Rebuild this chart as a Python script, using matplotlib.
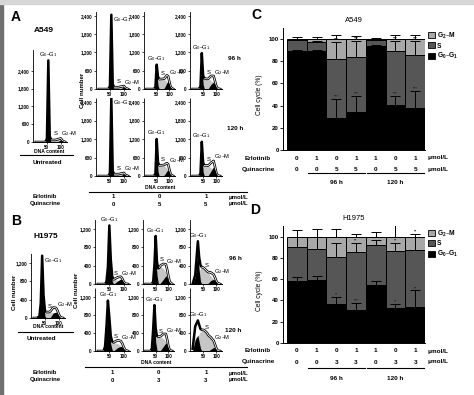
import numpy as np
import matplotlib
matplotlib.use("Agg")
import matplotlib.pyplot as plt
import matplotlib.transforms as mtrans
from matplotlib.lines import Line2D
from matplotlib.patches import Patch, Rectangle
from matplotlib.ticker import FuncFormatter

plt.rcParams["font.family"] = ["Liberation Sans", "DejaVu Sans"]
plt.rcParams["font.weight"] = "bold"
plt.rcParams["mathtext.default"] = "regular"
plt.rcParams["axes.linewidth"] = 0.7

W, H = 474, 395

# ---------------- flow histograms (DNA content channel -> cell number) ----------------
DNA = [10, 20, 30, 35, 40, 45, 50, 55, 60, 65, 70, 80, 90, 95, 100, 105, 115]

# order: untreated, 96 h (E1/Q0, E0/Q, E1/Q), 120 h (E1/Q0, E0/Q, E1/Q)
A_G1 = [
    [0, 0, 0, 0, 0, 0, 120, 2700, 120, 0, 0, 0, 0, 0, 0, 0, 0],
    [0, 0, 0, 0, 0, 0, 100, 2400, 100, 0, 0, 0, 0, 0, 0, 0, 0],
    [0, 0, 0, 0, 0, 40, 650, 120, 0, 0, 0, 0, 0, 0, 0, 0, 0],
    [0, 0, 0, 0, 60, 1000, 150, 0, 0, 0, 0, 0, 0, 0, 0, 0, 0],
    [0, 0, 0, 0, 0, 0, 100, 2500, 100, 0, 0, 0, 0, 0, 0, 0, 0],
    [0, 0, 0, 0, 0, 50, 1050, 150, 0, 0, 0, 0, 0, 0, 0, 0, 0],
    [0, 0, 0, 0, 50, 950, 130, 0, 0, 0, 0, 0, 0, 0, 0, 0, 0],
]
A_S = [
    [0, 0, 0, 0, 0, 0, 0, 50, 70, 70, 70, 70, 70, 60, 40, 10, 0],
    [0, 0, 0, 0, 0, 0, 0, 40, 60, 60, 60, 60, 60, 50, 30, 10, 0],
    [0, 0, 0, 0, 0, 30, 150, 280, 320, 330, 330, 310, 250, 170, 80, 20, 0],
    [0, 0, 0, 0, 30, 180, 300, 330, 340, 330, 320, 280, 200, 120, 50, 10, 0],
    [0, 0, 0, 0, 0, 0, 0, 40, 60, 60, 60, 60, 60, 50, 30, 10, 0],
    [0, 0, 0, 0, 0, 30, 150, 300, 340, 350, 350, 330, 260, 180, 90, 20, 0],
    [0, 0, 0, 0, 30, 160, 300, 340, 350, 340, 320, 270, 190, 110, 40, 10, 0],
]
A_G2 = [
    [0, 0, 0, 0, 0, 0, 0, 0, 0, 0, 0, 0, 20, 50, 80, 40, 0],
    [0, 0, 0, 0, 0, 0, 0, 0, 0, 0, 0, 0, 20, 40, 70, 30, 0],
    [0, 0, 0, 0, 0, 0, 0, 0, 0, 0, 0, 30, 200, 250, 150, 40, 0],
    [0, 0, 0, 0, 0, 0, 0, 0, 0, 0, 20, 150, 230, 150, 60, 10, 0],
    [0, 0, 0, 0, 0, 0, 0, 0, 0, 0, 0, 0, 20, 40, 70, 30, 0],
    [0, 0, 0, 0, 0, 0, 0, 0, 0, 0, 0, 30, 160, 200, 120, 30, 0],
    [0, 0, 0, 0, 0, 0, 0, 0, 0, 0, 20, 160, 300, 200, 80, 10, 0],
]
B_G1 = [
    [0, 0, 30, 300, 1300, 400, 40, 0, 0, 0, 0, 0, 0, 0, 0, 0, 0],
    [0, 0, 0, 0, 50, 350, 1220, 450, 60, 0, 0, 0, 0, 0, 0, 0, 0],
    [0, 0, 0, 0, 50, 350, 850, 200, 20, 0, 0, 0, 0, 0, 0, 0, 0],
    [0, 150, 785, 300, 60, 0, 0, 0, 0, 0, 0, 0, 0, 0, 0, 0, 0],
    [0, 0, 0, 100, 500, 1020, 600, 150, 20, 0, 0, 0, 0, 0, 0, 0, 0],
    [0, 0, 0, 60, 400, 800, 200, 20, 0, 0, 0, 0, 0, 0, 0, 0, 0],
    [0, 250, 350, 200, 60, 0, 0, 0, 0, 0, 0, 0, 0, 0, 0, 0, 0],
]
B_S = [
    [0, 0, 0, 20, 60, 100, 120, 130, 130, 130, 130, 120, 90, 60, 30, 10, 0],
    [0, 0, 0, 0, 0, 20, 60, 90, 100, 100, 95, 80, 50, 30, 10, 0, 0],
    [0, 0, 0, 0, 0, 60, 200, 280, 320, 360, 380, 340, 250, 170, 90, 30, 0],
    [0, 50, 150, 280, 350, 370, 360, 340, 310, 280, 240, 170, 110, 70, 30, 10, 0],
    [0, 0, 0, 0, 40, 100, 150, 180, 190, 190, 180, 160, 120, 80, 40, 10, 0],
    [0, 0, 0, 0, 80, 220, 300, 310, 320, 320, 310, 280, 200, 120, 50, 10, 0],
    [50, 300, 330, 380, 430, 470, 470, 460, 430, 400, 350, 260, 150, 90, 40, 10, 0],
]
B_G2 = [
    [0, 0, 0, 0, 0, 0, 0, 0, 0, 0, 20, 110, 130, 100, 50, 10, 0],
    [0, 0, 0, 0, 0, 0, 0, 0, 0, 0, 20, 70, 110, 90, 40, 10, 0],
    [0, 0, 0, 0, 0, 0, 0, 0, 0, 0, 30, 100, 180, 150, 80, 20, 0],
    [0, 0, 0, 0, 0, 0, 0, 0, 0, 0, 20, 80, 100, 80, 40, 10, 0],
    [0, 0, 0, 0, 0, 0, 0, 0, 0, 0, 30, 80, 100, 90, 50, 15, 0],
    [0, 0, 0, 0, 0, 0, 0, 0, 0, 0, 20, 100, 180, 140, 60, 10, 0],
    [0, 0, 0, 0, 0, 0, 0, 0, 0, 0, 0, 40, 80, 60, 30, 0, 0],
]
A_TICKS = [0, 600, 1200, 1800, 2400]
B_TICKS = [0, 400, 800, 1200]
GRID_ERL = ["1", "0", "1"]
A_QUIN = ["0", "5", "5"]
B_QUIN = ["0", "3", "3"]

# ---------------- cell-cycle distribution (%) ----------------
ERLOTINIB = ["0", "1", "0", "1", "1", "0", "1"]
C_QUINACRINE = ["0", "0", "5", "5", "0", "5", "5"]
D_QUINACRINE = ["0", "0", "3", "3", "0", "3", "3"]
PHASES = ["G$_2$–M", "S", "G$_0$–G$_1$"]

C_G1 = [89, 89, 28.5, 34.5, 94, 41, 37.5]
C_S = [10.5, 8.6, 53.2, 49.5, 5.5, 48, 48.5]
C_G2 = [0.5, 2.4, 18.3, 16, 0.5, 11, 14]
C_ERR_G1 = [1, 1, 17.5, 14.5, 1, 8, 16]
C_ERR_S = [0, 1, 16, 14, 0, 9, 12]
C_ERR_G2 = [1.5, 2, 4, 2.7, 1, 4, 4]
C_SIG_G1 = ["", "", "***", "***", "", "***", "***"]
C_SIG_S = ["", "", "***", "***", "", "***", "***"]
C_SIG_G2 = ["", "", "", "", "", "", ""]

D_G1 = [58.5, 59.4, 36.5, 31, 54.7, 33.3, 34.3]
D_S = [31.5, 29.3, 44, 54.5, 37.1, 53.5, 53.4]
D_G2 = [10, 11.3, 19.5, 14.5, 8.2, 13.2, 12.3]
D_ERR_G1 = [3.5, 3.6, 7.2, 6.4, 3.2, 3.2, 15.1]
D_ERR_S = [9.4, 11, 13.2, 8.5, 5, 7.2, 12]
D_ERR_G2 = [6, 7, 7.5, 2.8, 4, 10.7, 2.8]
D_SIG_G1 = ["", "", "**", "***", "", "**", "**"]
D_SIG_S = ["", "", "", "**", "", "**", ""]
D_SIG_G2 = ["", "", "", "", "", "", "**"]

fig = plt.figure(figsize=(W / 100, H / 100), dpi=100)
fig.patches.append(Rectangle((0, 0), 2.5 / W, 1, transform=fig.transFigure, color="#707070", zorder=10))
fig.patches.append(Rectangle((0, 1 - 3.5 / H), 1, 3.5 / H, transform=fig.transFigure, color="#d6d6d6", zorder=10))


def box(l, t, r, b):
    return fig.add_axes([l / W, 1 - b / H, (r - l) / W, (b - t) / H])


def ftext(x, y, s, **kw):
    kw.setdefault("ha", "center")
    kw.setdefault("va", "center")
    return fig.text(x / W, 1 - y / H, s, **kw)


def hline(x0, x1, y, lw=0.8):
    fig.add_artist(Line2D([x0 / W, x1 / W], [1 - y / H] * 2, color="black", lw=lw))


def histo(ax, g1, s, g2, ymax, yticks):
    x = np.array(DNA, float)
    g1, s, g2 = (np.array(v, float) for v in (g1, s, g2))
    env = g1 + s + g2
    ax.fill_between(x, 0, s, color="#c6c6c6", lw=0, zorder=1)
    ax.plot(x, env, color="black", lw=1.8, zorder=2)
    # white core of the envelope only away from the G0-G1 peak
    ax.plot(x, np.where(g1 > 0, np.nan, env), color="white", lw=0.6, zorder=3)
    ax.fill_between(x, 0, g1, color="black", lw=0, zorder=4)
    ax.fill_between(x, 0, g2, color="black", lw=0, zorder=4)
    ax.set_xlim(0, 122)
    ax.set_ylim(0, ymax)
    ax.set_xticks([50, 100])
    ax.set_yticks(yticks)
    ax.yaxis.set_major_formatter(FuncFormatter(lambda v, p: f"{int(v):,}"))
    ax.tick_params(labelsize=3.3, length=1.5, width=0.5, pad=0.8)
    for sp in ("top", "right"):
        ax.spines[sp].set_visible(False)
    ax.spines["left"].set_linestyle((0, (1, 1)))
    ax.spines["left"].set_linewidth(0.6)
    ax.patch.set_alpha(0)
    i1, i2 = int(np.argmax(g1)), int(np.argmax(g2))
    lab = dict(fontsize=4.2, fontweight="normal", clip_on=False, zorder=5)
    if env[i1] + 0.08 * ymax > ymax:
        ax.text(x[i1] + 6, env[i1], "G$_0$–G$_1$", ha="left", va="top", **lab)
    else:
        ax.text(x[i1], env[i1] + 0.02 * ymax, "G$_0$–G$_1$", ha="center", va="bottom", **lab)
    xs = 0.5 * (x[i1] + x[i2]) + 3
    ax.text(xs, np.interp(xs, x, env) + 0.04 * ymax, "S", ha="center", va="bottom", **lab)
    ax.text(x[i2] + 2, env[i2] + 0.05 * ymax, "G$_2$–M", ha="left", va="center", **lab)


def grid(g1s, s_s, g2s, ymax, yticks, rows, cols):
    for r, (t, b) in enumerate(rows):
        for c, (l, rr) in enumerate(cols):
            k = 1 + 3 * r + c
            histo(box(l, t, rr, b), g1s[k], s_s[k], g2s[k], ymax, yticks)


def cycle_bars(ax, g1, s, g2, errs, sigs, quin, title, ytab):
    x = np.arange(len(g1))
    g1, s, g2 = (np.array(v, float) for v in (g1, s, g2))
    kw = dict(width=1.0, edgecolor="black", linewidth=0.7)
    ax.bar(x, g1, color="black", **kw)
    ax.bar(x, s, bottom=g1, color="#565656", **kw)
    ax.bar(x, g2, bottom=g1 + s, color="#a8a8a8", **kw)
    for top, err, sig in zip((g1, g1 + s, g1 + s + g2), errs, sigs):
        err = np.array(err, float)
        m = err > 0
        ax.errorbar(x[m], top[m], yerr=[np.zeros(m.sum()), err[m]], fmt="none",
                    ecolor="black", elinewidth=0.7, capsize=3.3, capthick=0.7)
        for xi, tp, e, st in zip(x, top, err, sig):
            if st:
                ax.text(xi, tp + e + 0.3, st, ha="center", va="bottom", fontsize=3,
                        color="#222222")
    ax.set_xlim(-0.7, 6.5)
    ax.set_ylim(0, 110)
    ax.set_yticks(range(0, 101, 20))
    ax.set_xticks([])
    ax.tick_params(labelsize=4.3, length=2, width=0.6, pad=1)
    for sp in ("top", "right"):
        ax.spines[sp].set_visible(False)
    ax.set_ylabel("Cell cycle (%)", fontsize=4.8)
    ax.yaxis.set_label_coords(-0.14, 0.45)
    ax.set_title(title, fontsize=5.5, pad=4)
    ax.legend([Patch(facecolor=c, edgecolor="black", lw=0.6) for c in ("#a8a8a8", "#565656", "black")],
              PHASES, loc="upper left", bbox_to_anchor=(1.02, 0.98), fontsize=4.8,
              handlelength=1.0, handleheight=1.0, handletextpad=0.4, labelspacing=0.25,
              borderpad=0, borderaxespad=0, frameon=False)
    tr = mtrans.blended_transform_factory(ax.transData, fig.transFigure)
    y_e, y_q, y_l, y_t = (1 - v / H for v in ytab)
    ftext(258, ytab[0], "Erlotinib", fontsize=4.6)
    ftext(258, ytab[1], "Quinacrine", fontsize=4.6)
    for xi, e, q in zip(x, ERLOTINIB, quin):
        ax.text(xi, y_e, e, transform=tr, ha="center", va="center", fontsize=4.6)
        ax.text(xi, y_q, q, transform=tr, ha="center", va="center", fontsize=4.6)
    ax.text(6.62, y_e, "μmol/L", transform=tr, ha="left", va="center", fontsize=4.6)
    ax.text(6.62, y_q, "μmol/L", transform=tr, ha="left", va="center", fontsize=4.6)
    for lo, hi, lab in ((1, 3, "96 h"), (4, 6, "120 h")):
        ax.add_artist(Line2D([lo - 0.45, hi + 0.45], [y_l, y_l], transform=tr, color="black",
                             lw=0.8, clip_on=False))
        ax.text((lo + hi) / 2, y_t, lab, transform=tr, ha="center", va="center", fontsize=4.6)


# ---------------- panel A ----------------
ftext(16, 17, "A", fontsize=10)
ftext(44, 30, "A549", fontsize=6)
ax = box(33, 50, 67, 142)
histo(ax, A_G1[0], A_S[0], A_G2[0], 3100, A_TICKS)
ftext(49, 151, "DNA content", fontsize=3.6)
hline(20, 73, 155)
ftext(47, 162, "Untreated", fontsize=4.6)

A_COLS = [(96, 130), (144, 175), (190, 222)]
grid(A_G1, A_S, A_G2, 2530, A_TICKS, [(12, 89), (98, 176)], A_COLS)
ftext(83, 90, "Cell number", fontsize=4.4, rotation=90)
ftext(160, 187, "DNA content", fontsize=3.6)
hline(89, 247, 192)
ftext(228, 58, "96 h", fontsize=4.6, ha="left")
ftext(227, 128, "120 h", fontsize=4.6, ha="left")
ftext(45, 197, "Erlotinib", fontsize=4.3)
ftext(45, 204, "Quinacrine", fontsize=4.3)
for (l, r), e, q in zip(A_COLS, GRID_ERL, A_QUIN):
    ftext((l + r) / 2, 197, e, fontsize=4.3)
    ftext((l + r) / 2, 204, q, fontsize=4.3)
ftext(229, 197, "μmol/L", fontsize=4.3, ha="left")
ftext(229, 204, "μmol/L", fontsize=4.3, ha="left")

# ---------------- panel B ----------------
ftext(16, 221, "B", fontsize=10)
ftext(46, 237, "H1975", fontsize=6)
ax = box(31, 253, 65, 318)
histo(ax, B_G1[0], B_S[0], B_G2[0], 1420, B_TICKS)
ftext(15, 292, "Cell number", fontsize=4.4, rotation=90)
ftext(48, 327, "DNA content", fontsize=3.6)
hline(18, 73, 332)
ftext(41, 339, "Untreated", fontsize=4.6)

B_COLS = [(95, 130), (143, 174), (190, 222)]
grid(B_G1, B_S, B_G2, 1400, B_TICKS, [(220, 284), (288, 351)], B_COLS)
ftext(77, 290, "Cell number", fontsize=4.4, rotation=90)
ftext(156, 363, "DNA content", fontsize=3.6)
hline(85, 247, 367)
ftext(229, 258, "96 h", fontsize=4.6, ha="left")
ftext(225, 330, "120 h", fontsize=4.6, ha="left")
ftext(45, 373, "Erlotinib", fontsize=4.3)
ftext(45, 380, "Quinacrine", fontsize=4.3)
for (l, r), e, q in zip(B_COLS, GRID_ERL, B_QUIN):
    ftext((l + r) / 2, 373, e, fontsize=4.3)
    ftext((l + r) / 2, 380, q, fontsize=4.3)
ftext(229, 373, "μmol/L", fontsize=4.3, ha="left")
ftext(229, 380, "μmol/L", fontsize=4.3, ha="left")

# ---------------- panel C ----------------
ftext(256, 15, "C", fontsize=10)
ax = box(283, 28, 425, 150)
cycle_bars(ax, C_G1, C_S, C_G2, (C_ERR_G1, C_ERR_S, C_ERR_G2), (C_SIG_G1, C_SIG_S, C_SIG_G2),
           C_QUINACRINE, "A549", (158, 169, 173, 182))

# ---------------- panel D ----------------
ftext(255, 210, "D", fontsize=10)
ax = box(283, 226, 425, 343)
cycle_bars(ax, D_G1, D_S, D_G2, (D_ERR_G1, D_ERR_S, D_ERR_G2), (D_SIG_G1, D_SIG_S, D_SIG_G2),
           D_QUINACRINE, "H1975", (351, 362, 368, 378))

fig.savefig("out.png", dpi=100)
